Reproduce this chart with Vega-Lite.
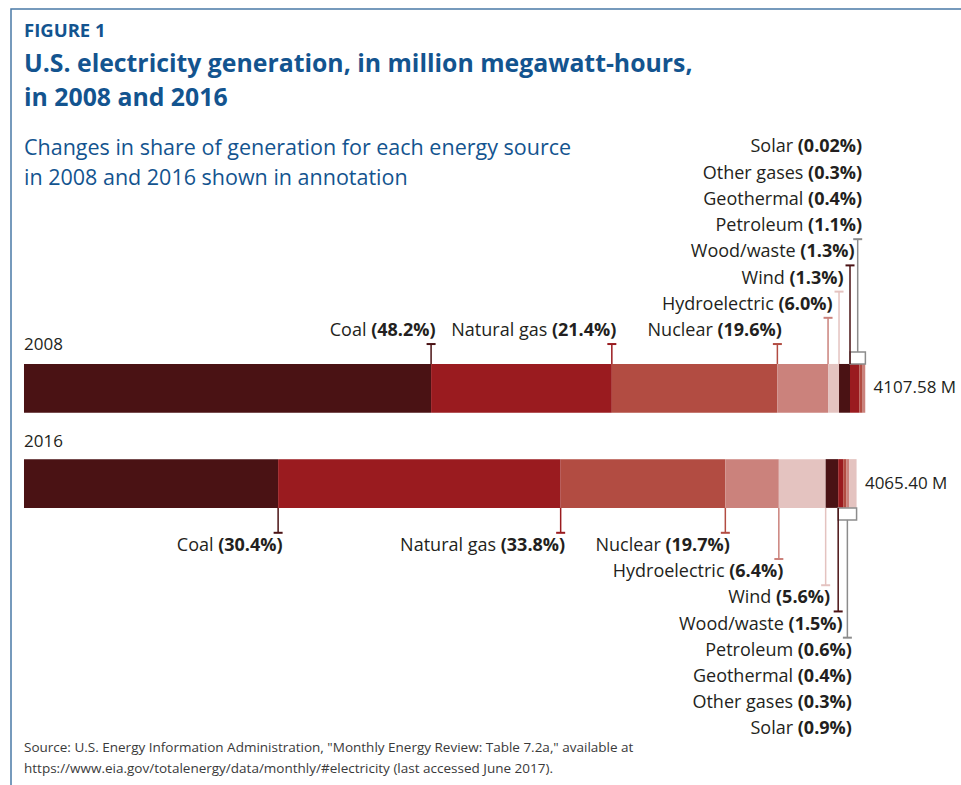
{
  "$schema": "https://vega.github.io/schema/vega-lite/v6.json",
  "width": 950,
  "height": 776,
  "autosize": {"type": "none"},
  "padding": {"left": 11, "top": 9, "right": 0, "bottom": 0},
  "background": "white",
  "config": {
    "view": {"stroke": "#4a7aa7", "strokeWidth": 1.5, "strokeDash": [950, 1726, 776]},
    "text": {"font": "Open Sans", "fontSize": 17, "fill": "#231f20"}
  },
  "title": {
    "text": "FIGURE 1",
    "subtitle": ["U.S. electricity generation, in million megawatt-hours,", "in 2008 and 2016"],
    "anchor": "start",
    "frame": "group",
    "dx": 13,
    "offset": -102,
    "font": "Open Sans",
    "fontSize": 18.5,
    "fontWeight": "bold",
    "color": "#13548f",
    "subtitleFont": "Open Sans",
    "subtitleFontSize": 24.8,
    "subtitleFontWeight": "bold",
    "subtitleColor": "#13548f",
    "subtitleLineHeight": 34,
    "subtitlePadding": 12
  },
  "datasets": {
    "gen": [
      {"year": 2008, "source": "Coal", "rank": 1, "value": 1979.85, "share": 48.2},
      {"year": 2008, "source": "Natural gas", "rank": 2, "value": 879.02, "share": 21.4},
      {"year": 2008, "source": "Nuclear", "rank": 3, "value": 805.09, "share": 19.6},
      {"year": 2008, "source": "Hydroelectric", "rank": 4, "value": 246.45, "share": 6.0},
      {"year": 2008, "source": "Wind", "rank": 5, "value": 53.40, "share": 1.3},
      {"year": 2008, "source": "Wood/waste", "rank": 6, "value": 53.40, "share": 1.3},
      {"year": 2008, "source": "Petroleum", "rank": 7, "value": 45.18, "share": 1.1},
      {"year": 2008, "source": "Geothermal", "rank": 8, "value": 16.43, "share": 0.4},
      {"year": 2008, "source": "Other gases", "rank": 9, "value": 12.32, "share": 0.3},
      {"year": 2008, "source": "Solar", "rank": 10, "value": 0.82, "share": 0.02},
      {"year": 2016, "source": "Coal", "rank": 1, "value": 1235.88, "share": 30.4},
      {"year": 2016, "source": "Natural gas", "rank": 2, "value": 1374.11, "share": 33.8},
      {"year": 2016, "source": "Nuclear", "rank": 3, "value": 800.88, "share": 19.7},
      {"year": 2016, "source": "Hydroelectric", "rank": 4, "value": 260.19, "share": 6.4},
      {"year": 2016, "source": "Wind", "rank": 5, "value": 227.66, "share": 5.6},
      {"year": 2016, "source": "Wood/waste", "rank": 6, "value": 60.98, "share": 1.5},
      {"year": 2016, "source": "Petroleum", "rank": 7, "value": 24.39, "share": 0.6},
      {"year": 2016, "source": "Geothermal", "rank": 8, "value": 16.26, "share": 0.4},
      {"year": 2016, "source": "Other gases", "rank": 9, "value": 12.20, "share": 0.3},
      {"year": 2016, "source": "Solar", "rank": 10, "value": 36.59, "share": 0.9}
    ],
    "years": [
      {"year": 2008, "total": 4107.58},
      {"year": 2016, "total": 4065.40}
    ]
  },
  "layer": [
    {
      "data": {"name": "gen"},
      "transform": [
        {"stack": "value", "groupby": ["year"], "sort": [{"field": "rank", "order": "ascending"}], "as": ["x0", "x1"]},
        {"calculate": "datum.rank >= 7 ? datum.x0 : null", "as": "gx0"},
        {"joinaggregate": [{"op": "max", "field": "x1", "as": "barEnd"}, {"op": "min", "field": "gx0", "as": "boxStart"}], "groupby": ["year"]},
        {"calculate": "max(1, datum.rank - 2)", "as": "tier"},
        {"calculate": "datum.year == 2008 ? 13.28 - datum.tier : 19.48 + datum.tier", "as": "labelY"},
        {"calculate": "datum.year == 2008 ? datum.labelY + 0.5 : datum.labelY - 0.5", "as": "capY"},
        {"calculate": "datum.year == 2008 ? 13.54 : 17.17", "as": "barTop"},
        {"calculate": "datum.year == 2008 ? 15.40 : 19.03", "as": "barBot"},
        {"calculate": "datum.year == 2008 ? datum.barTop : datum.barBot", "as": "barEdge"},
        {"calculate": "datum.year == 2008 ? 13.08 : 19.49", "as": "boxOuter"},
        {"calculate": "(datum.boxStart + datum.barEnd) / 2", "as": "boxMid"},
        {"calculate": "datum.rank >= 7 ? datum.boxMid : datum.x1", "as": "anchorX"},
        {"calculate": "'(' + (datum.share < 0.1 ? format(datum.share, '.2f') : format(datum.share, '.1f')) + '%)'", "as": "pctText"}
      ],
      "layer": [
        {
          "mark": {"type": "rect"},
          "encoding": {
            "x": {"field": "x0", "type": "quantitative", "scale": {"domain": [-63.2, 4557], "nice": false, "zero": false}, "axis": null},
            "x2": {"field": "x1"},
            "y": {"field": "barTop", "type": "quantitative", "scale": {"domain": [0, 29.6], "nice": false, "zero": false, "reverse": true}, "axis": null},
            "y2": {"field": "barBot"},
            "color": {
              "field": "source", "type": "nominal", "legend": null,
              "scale": {
                "domain": ["Coal", "Natural gas", "Nuclear", "Hydroelectric", "Wind", "Wood/waste", "Petroleum", "Geothermal", "Other gases", "Solar"],
                "range": ["#4a1214", "#9a1b1f", "#b24c42", "#cb827c", "#e4c3c0", "#4a1214", "#9a1b1f", "#b24c42", "#cb827c", "#e4c3c0"]
              }
            }
          }
        },
        {
          "transform": [{"filter": "datum.rank == 7"}],
          "mark": {"type": "rect", "fill": "white", "stroke": "#8c8c8c", "strokeWidth": 1.5},
          "encoding": {
            "x": {"field": "boxStart", "type": "quantitative", "scale": {"domain": [-63.2, 4557], "nice": false, "zero": false}, "axis": null},
            "x2": {"field": "barEnd"},
            "y": {"field": "boxOuter", "type": "quantitative", "scale": {"domain": [0, 29.6], "nice": false, "zero": false, "reverse": true}, "axis": null},
            "y2": {"field": "barEdge"}
          }
        },
        {
          "transform": [{"filter": "datum.rank <= 6"}],
          "mark": {"type": "rule", "strokeWidth": 1.5},
          "encoding": {
            "x": {"field": "x1", "type": "quantitative", "scale": {"domain": [-63.2, 4557], "nice": false, "zero": false}, "axis": null},
            "y": {"field": "barEdge", "type": "quantitative", "scale": {"domain": [0, 29.6], "nice": false, "zero": false, "reverse": true}, "axis": null},
            "y2": {"field": "capY"},
            "color": {"field": "source", "type": "nominal", "legend": null}
          }
        },
        {
          "transform": [{"filter": "datum.rank <= 6"}],
          "mark": {"type": "tick", "orient": "horizontal", "size": 9, "thickness": 2, "opacity": 1},
          "encoding": {
            "x": {"field": "x1", "type": "quantitative", "scale": {"domain": [-63.2, 4557], "nice": false, "zero": false}, "axis": null},
            "y": {"field": "capY", "type": "quantitative", "scale": {"domain": [0, 29.6], "nice": false, "zero": false, "reverse": true}, "axis": null},
            "color": {"field": "source", "type": "nominal", "legend": null}
          }
        },
        {
          "transform": [{"filter": "datum.rank == 7"}],
          "mark": {"type": "rule", "strokeWidth": 1.5, "color": "#8c8c8c"},
          "encoding": {
            "x": {"field": "boxMid", "type": "quantitative", "scale": {"domain": [-63.2, 4557], "nice": false, "zero": false}, "axis": null},
            "y": {"field": "boxOuter", "type": "quantitative", "scale": {"domain": [0, 29.6], "nice": false, "zero": false, "reverse": true}, "axis": null},
            "y2": {"field": "capY"}
          }
        },
        {
          "transform": [{"filter": "datum.rank == 7"}],
          "mark": {"type": "tick", "orient": "horizontal", "size": 9, "thickness": 2, "opacity": 1, "color": "#8c8c8c"},
          "encoding": {
            "x": {"field": "boxMid", "type": "quantitative", "scale": {"domain": [-63.2, 4557], "nice": false, "zero": false}, "axis": null},
            "y": {"field": "capY", "type": "quantitative", "scale": {"domain": [0, 29.6], "nice": false, "zero": false, "reverse": true}, "axis": null}
          }
        },
        {
          "mark": {"type": "text", "align": "right", "baseline": "middle", "fontSize": 18, "dx": {"expr": "4.5 - 18 * ((length(datum.pctText) - 4) * 0.572 + 1.862 + 0.26)"}},
          "encoding": {
            "x": {"field": "anchorX", "type": "quantitative", "scale": {"domain": [-63.2, 4557], "nice": false, "zero": false}, "axis": null},
            "y": {"field": "labelY", "type": "quantitative", "scale": {"domain": [0, 29.6], "nice": false, "zero": false, "reverse": true}, "axis": null},
            "text": {"field": "source"}
          }
        },
        {
          "mark": {"type": "text", "align": "right", "baseline": "middle", "fontSize": 18, "fontWeight": "bold", "dx": 4.5},
          "encoding": {
            "x": {"field": "anchorX", "type": "quantitative", "scale": {"domain": [-63.2, 4557], "nice": false, "zero": false}, "axis": null},
            "y": {"field": "labelY", "type": "quantitative", "scale": {"domain": [0, 29.6], "nice": false, "zero": false, "reverse": true}, "axis": null},
            "text": {"field": "pctText"}
          }
        }
      ]
    },
    {
      "data": {"name": "years"},
      "transform": [
        {"calculate": "datum.year == 2008 ? 12.82 : 16.52", "as": "yearY"},
        {"calculate": "datum.year == 2008 ? 14.46 : 18.10", "as": "totalY"},
        {"calculate": "format(datum.total, '.2f') + ' M'", "as": "totalText"},
        {"calculate": "'' + datum.year", "as": "yearText"}
      ],
      "layer": [
        {
          "mark": {"type": "text", "align": "left", "baseline": "middle"},
          "encoding": {
            "x": {"datum": 0, "type": "quantitative", "scale": {"domain": [-63.2, 4557], "nice": false, "zero": false}, "axis": null},
            "y": {"field": "yearY", "type": "quantitative", "scale": {"domain": [0, 29.6], "nice": false, "zero": false, "reverse": true}, "axis": null},
            "text": {"field": "yearText"}
          }
        },
        {
          "mark": {"type": "text", "align": "left", "baseline": "middle", "dx": 5},
          "encoding": {
            "x": {"field": "total", "type": "quantitative", "scale": {"domain": [-63.2, 4557], "nice": false, "zero": false}, "axis": null},
            "y": {"field": "totalY", "type": "quantitative", "scale": {"domain": [0, 29.6], "nice": false, "zero": false, "reverse": true}, "axis": null},
            "text": {"field": "totalText"}
          }
        }
      ]
    },
    {
      "data": {"values": [{}]},
      "mark": {
        "type": "text",
        "text": ["Changes in share of generation for each energy source", "in 2008 and 2016 shown in annotation"],
        "align": "left",
        "baseline": "alphabetic",
        "lineHeight": 30,
        "fontSize": 21.5,
        "fill": "#13548f"
      },
      "encoding": {
        "x": {"datum": 0, "type": "quantitative", "scale": {"domain": [-63.2, 4557], "nice": false, "zero": false}, "axis": null},
        "y": {"datum": 5.57, "type": "quantitative", "scale": {"domain": [0, 29.6], "nice": false, "zero": false, "reverse": true}, "axis": null}
      }
    },
    {
      "data": {"values": [{}]},
      "mark": {
        "type": "text",
        "text": ["Source: U.S. Energy Information Administration, \"Monthly Energy Review: Table 7.2a,\" available at", "https://www.eia.gov/totalenergy/data/monthly/#electricity (last accessed June 2017)."],
        "align": "left",
        "baseline": "alphabetic",
        "lineHeight": 21,
        "fontSize": 13.5,
        "fill": "#3a3a3a"
      },
      "encoding": {
        "x": {"datum": 0, "type": "quantitative", "scale": {"domain": [-63.2, 4557], "nice": false, "zero": false}, "axis": null},
        "y": {"datum": 28.34, "type": "quantitative", "scale": {"domain": [0, 29.6], "nice": false, "zero": false, "reverse": true}, "axis": null}
      }
    }
  ]
}
